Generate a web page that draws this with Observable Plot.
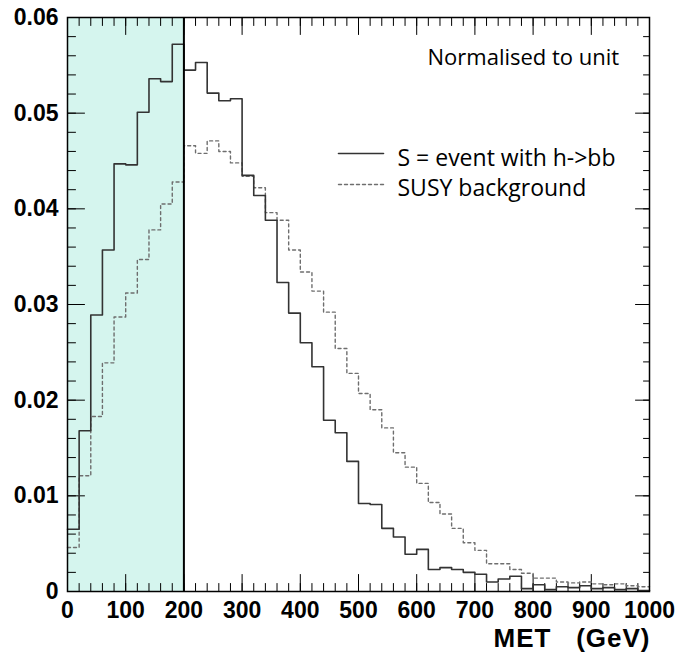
<!DOCTYPE html>
<html>
<head>
<meta charset="utf-8">
<script src="https://cdn.jsdelivr.net/npm/d3@7"></script>
<script src="https://cdn.jsdelivr.net/npm/@observablehq/plot@0.6"></script>
<style>
  body { margin: 0; background: #ffffff; }
  #chart { width: 680px; height: 661px; }
</style>
</head>
<body>
<div id="chart"></div>
<script>
// ---- data ----
const binWidth = 20; // GeV
const signal = [
  0.0065, 0.0168, 0.0289, 0.0357, 0.0447, 0.0446, 0.0501, 0.0536, 0.0533, 0.0572,
  0.0545, 0.0553, 0.0521, 0.0513, 0.0515, 0.0435, 0.0414, 0.0388, 0.0323, 0.0291,
  0.0260, 0.0235, 0.0179, 0.0166, 0.0136, 0.0092, 0.0091, 0.0066, 0.0057, 0.0039,
  0.0044, 0.0023, 0.0025, 0.0023, 0.0020, 0.0018, 0.0010, 0.0013, 0.0016, 0.0003,
  0.0007, 0.0002, 0.0005, 0.0004, 0.0006, 0.0003, 0.0004, 0.0002, 0.0003, 0.0001
];
const background = [
  0.0046, 0.0121, 0.0183, 0.0239, 0.0287, 0.0312, 0.0347, 0.0378, 0.0405, 0.0428,
  0.0466, 0.0458, 0.0471, 0.0460, 0.0448, 0.0434, 0.0422, 0.0396, 0.0388, 0.0357,
  0.0334, 0.0314, 0.0292, 0.0254, 0.0228, 0.0207, 0.0190, 0.0171, 0.0145, 0.0130,
  0.0113, 0.0093, 0.0081, 0.0066, 0.0051, 0.0043, 0.0029, 0.0029, 0.0023, 0.0019,
  0.0014, 0.0014, 0.0010, 0.0009, 0.0010, 0.0008, 0.0007, 0.0008, 0.0006, 0.0005
];
const xTickValues = [0, 100, 200, 300, 400, 500, 600, 700, 800, 900, 1000];
const yTickValues = [0, 0.01, 0.02, 0.03, 0.04, 0.05, 0.06];
const xMinorStep = 20;
const yMinorStep = 0.002;
const xDomain = [0, 1000];
const yDomain = [0, 0.06];
const cutRegion = [0, 200];
const legendLabels = ["S = event with h->bb", "SUSY background"];
const noteText = "Normalised to unit";
const xTitle = "MET\u00a0\u00a0\u00a0(GeV)";

// ---- build step tables ----
function steps(values) {
  const pts = values.map((v, i) => ({x: i * binWidth, y: v}));
  pts.push({x: values.length * binWidth, y: values[values.length - 1]});
  return pts;
}
const sigPts = steps(signal);
const bkgPts = steps(background);

const xMinor = d3.range(xDomain[0] + xMinorStep, xDomain[1], xMinorStep);
const xMajor = xTickValues.filter(v => v > xDomain[0] && v < xDomain[1]);
const yMinor = d3.range(1, Math.round(yDomain[1] / yMinorStep)).map(k => +(k * yMinorStep).toFixed(4));
const yMajor = yTickValues.filter(v => v > yDomain[0] && v < yDomain[1]);

const tickShape = {draw(ctx, l) { ctx.moveTo(0, 0); ctx.lineTo(0, -l); }};
function ticks(data, side, len, sw) {
  const base = {anchor: "start", shape: tickShape, length: len, stroke: "black", strokeWidth: sw};
  if (side === "bottom") return Plot.vector(data, {...base, x: d => d, y: yDomain[0], rotate: 0});
  if (side === "top") return Plot.vector(data, {...base, x: d => d, y: yDomain[1], rotate: 180});
  if (side === "left") return Plot.vector(data, {...base, y: d => d, x: xDomain[0], rotate: 90});
  return Plot.vector(data, {...base, y: d => d, x: xDomain[1], rotate: 270});
}

const axisFont = "Liberation Sans, Arial, Helvetica, sans-serif";
const textFont = "Open Sans";

const chart = Plot.plot({
  width: 680,
  height: 661,
  marginLeft: 67,
  marginRight: 31,
  marginTop: 17,
  marginBottom: 70,
  style: {fontFamily: axisFont, background: "#ffffff", color: "black"},
  x: {domain: xDomain},
  y: {domain: yDomain},
  marks: [
    Plot.rect([cutRegion], {x1: d => d[0], x2: d => d[1], y1: yDomain[0], y2: yDomain[1], fill: "#d5f5ee"}),
    ticks(xMinor, "bottom", 8, 1), ticks(xMajor, "bottom", 17, 1),
    ticks(xMinor, "top", 8, 1), ticks(xMajor, "top", 17, 1),
    ticks(yMinor, "left", 8, 1), ticks(yMajor, "left", 17, 1),
    ticks(yMinor, "right", 6, 1), ticks(yMajor, "right", 14, 1),
    Plot.line(bkgPts, {x: "x", y: "y", curve: "step-after", stroke: "#6e6e6e", strokeWidth: 1.4, strokeDasharray: "3,3"}),
    Plot.line(sigPts, {x: "x", y: "y", curve: "step-after", stroke: "#333333", strokeWidth: 1.6}),
    Plot.ruleX([cutRegion[1]], {y1: yDomain[0], y2: yDomain[1], stroke: "black", strokeWidth: 2}),
    Plot.frame({stroke: "black", strokeWidth: 1.5}),
    Plot.axisX({ticks: xTickValues, tickSize: 0, tickPadding: 10, label: null, fontSize: 23, fontWeight: "bold", tickFormat: d => String(d)}),
    Plot.axisY({ticks: yTickValues, tickSize: 0, tickPadding: 9, label: null, fontSize: 23, fontWeight: "bold", tickFormat: d => d === 0 ? "0" : d.toFixed(2)}),
    Plot.text([xTitle], {frameAnchor: "bottom-right", dy: 55, dx: 1, textAnchor: "end", fontSize: 26, fontWeight: "bold"}),
    Plot.text([noteText], {frameAnchor: "top-left", dx: 360, dy: 32, textAnchor: "start", fontSize: 22, fontFamily: textFont}),
    Plot.text([legendLabels[0]], {frameAnchor: "top-left", dx: 330, dy: 132, textAnchor: "start", fontSize: 23, fontFamily: textFont}),
    Plot.text([legendLabels[1]], {frameAnchor: "top-left", dx: 330, dy: 162, textAnchor: "start", fontSize: 23, fontFamily: textFont}),
    Plot.vector([legendLabels[0]], {frameAnchor: "top-left", dx: 271, dy: 136, length: 45, rotate: 90, anchor: "start", shape: tickShape, stroke: "#333333", strokeWidth: 1.6}),
    Plot.vector([legendLabels[1]], {frameAnchor: "top-left", dx: 271, dy: 167, length: 45, rotate: 90, anchor: "start", shape: tickShape, stroke: "#6e6e6e", strokeWidth: 1.4, strokeDasharray: "3,3"})
  ]
});

chart.querySelectorAll('g[aria-label="text"]').forEach(g => {
  if (g.textContent.indexOf("MET") >= 0) g.setAttribute("letter-spacing", "1");
});
document.getElementById("chart").appendChild(chart);
</script>
</body>
</html>
